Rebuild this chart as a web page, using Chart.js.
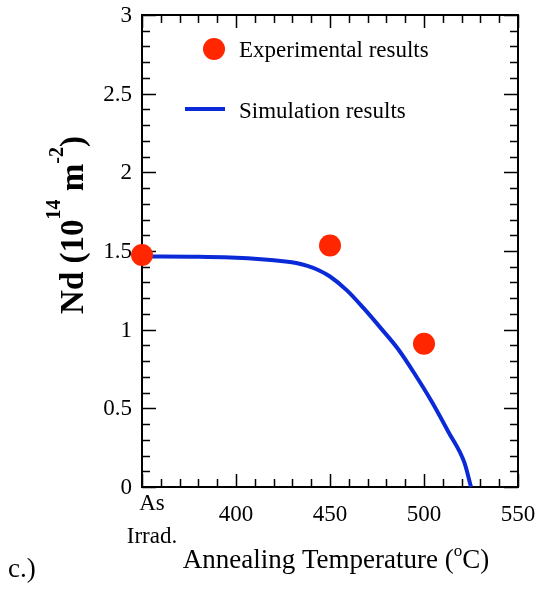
<!DOCTYPE html>
<html>
<head>
<meta charset="utf-8">
<script src="https://cdn.jsdelivr.net/npm/chart.js@4.4.0/dist/chart.umd.min.js"></script>
<style>
html, body { margin: 0; padding: 0; background: #fff; }
</style>
</head>
<body>
<canvas id="ndChart" width="537" height="595"></canvas>
<script>
// measured points
const expTemps = [350, 450, 500];
const expNd = [1.475, 1.535, 0.91];

// simulation curve
const simTemps = [350, 380, 397, 415, 425, 432, 438, 444, 450, 459, 468, 477, 486, 495, 504, 513, 521.5, 525];
const simNd = [1.465, 1.463, 1.458, 1.446, 1.435, 1.424, 1.405, 1.378, 1.338, 1.25, 1.135, 1.01, 0.88, 0.72, 0.545, 0.35, 0.155, 0];

const xTickLabels = [400, 450, 500, 550];
const yTickLabels = ['0', '0.5', '1', '1.5', '2', '2.5', '3'];
const firstXLabel = ['As', 'Irrad.'];

const serif = "'Liberation Serif', 'Times New Roman', serif";
const red = '#ff2600';
const blue = '#0a2ad8';

function toPoints(xs, ys) {
    return xs.map((x, i) => ({ x: x, y: ys[i] }));
}

// text with superscripts, parts = [text, size, dy]
function drawRich(ctx, parts, x, y, bold) {
    const w = bold ? 'bold ' : '';
    let total = 0;
    parts.forEach(p => {
        ctx.font = w + p[1] + 'px ' + serif;
        total += ctx.measureText(p[0]).width;
    });
    let cx = x - total / 2;
    ctx.textAlign = 'left';
    ctx.textBaseline = 'alphabetic';
    parts.forEach(p => {
        ctx.font = w + p[1] + 'px ' + serif;
        ctx.fillText(p[0], cx, y + p[2]);
        cx += ctx.measureText(p[0]).width;
    });
}

const framePlugin = {
    id: 'frame',
    beforeDatasetsDraw(chart) {
        const ctx = chart.ctx;
        const a = chart.chartArea;
        const xs = chart.scales.x, ys = chart.scales.y;
        ctx.save();
        ctx.strokeStyle = '#000';
        ctx.lineWidth = 1.5;
        ctx.beginPath();
        for (let t = 350; t <= 550; t += 10) {
            const px = Math.round(xs.getPixelForValue(t)) + 0.5;
            const len = (t % 50 === 0) ? 13 : 8;
            ctx.moveTo(px, a.bottom); ctx.lineTo(px, a.bottom - len);
            ctx.moveTo(px, a.top); ctx.lineTo(px, a.top + len);
        }
        for (let k = 0; k <= 30; k++) {
            const py = Math.round(ys.getPixelForValue(k / 10)) + 0.5;
            const len = (k % 5 === 0) ? 14 : 8;
            ctx.moveTo(a.left, py); ctx.lineTo(a.left + len, py);
            ctx.moveTo(a.right, py); ctx.lineTo(a.right - len, py);
        }
        ctx.stroke();
        ctx.lineWidth = 2;
        ctx.strokeRect(a.left, a.top, a.right - a.left, a.bottom - a.top);
        ctx.restore();
    },
    afterDraw(chart) {
        const ctx = chart.ctx;
        const xs = chart.scales.x, ys = chart.scales.y;
        ctx.save();
        ctx.fillStyle = '#000';
        ctx.font = '23px ' + serif;

        // y tick labels
        ctx.textAlign = 'right';
        ctx.textBaseline = 'middle';
        yTickLabels.forEach(l => {
            ctx.fillText(l, 132, ys.getPixelForValue(parseFloat(l)) + 1);
        });

        // x tick labels
        ctx.textAlign = 'center';
        ctx.textBaseline = 'alphabetic';
        xTickLabels.forEach(v => {
            ctx.fillText(String(v), xs.getPixelForValue(v), 521);
        });
        const x0 = xs.getPixelForValue(350) + 10;
        ctx.fillText(firstXLabel[0], x0, 510);
        ctx.fillText(firstXLabel[1], x0, 543);

        // axis titles
        drawRich(ctx, [['Annealing Temperature (', 27, 0], ['o', 17, -12], ['C)', 27, 0]], 336, 568, false);
        ctx.save();
        ctx.translate(83, 225);
        ctx.rotate(-Math.PI / 2);
        drawRich(ctx, [['Nd (10', 33, 0], ['14', 20, -23], [' m', 33, 0], ['-2', 20, -20], [')', 33, 0]], 0, 0, true);
        ctx.restore();

        // legend
        ctx.fillStyle = red;
        ctx.beginPath();
        ctx.arc(214, 49, 11, 0, Math.PI * 2);
        ctx.fill();
        ctx.strokeStyle = blue;
        ctx.lineWidth = 4;
        ctx.beginPath();
        ctx.moveTo(185, 109); ctx.lineTo(225, 109);
        ctx.stroke();
        ctx.fillStyle = '#000';
        ctx.font = '23px ' + serif;
        ctx.textAlign = 'left';
        ctx.fillText('Experimental results', 239, 57);
        ctx.fillText('Simulation results', 239, 118);

        // panel tag
        ctx.font = '27px ' + serif;
        ctx.fillText('c.)', 8, 577);
        ctx.restore();
    }
};

const ctx = document.getElementById('ndChart').getContext('2d');
const ndChart = new Chart(ctx, {
    type: 'scatter',
    data: {
        datasets: [{
            label: 'Experimental results',
            data: toPoints(expTemps, expNd),
            backgroundColor: red,
            borderWidth: 0,
            pointRadius: 11,
            pointHoverRadius: 11,
            clip: false
        }, {
            label: 'Simulation results',
            data: toPoints(simTemps, simNd),
            showLine: true,
            borderColor: blue,
            borderWidth: 4,
            pointRadius: 0,
            cubicInterpolationMode: 'monotone',
            clip: false
        }]
    },
    options: {
        responsive: false,
        animation: false,
        devicePixelRatio: 1,
        layout: { padding: { left: 142, right: 19, top: 15, bottom: 108 } },
        plugins: { legend: { display: false }, tooltip: { enabled: false } },
        scales: {
            x: { type: 'linear', min: 350, max: 550, display: false },
            y: { type: 'linear', min: 0, max: 3, display: false }
        }
    },
    plugins: [framePlugin]
});
</script>
</body>
</html>
